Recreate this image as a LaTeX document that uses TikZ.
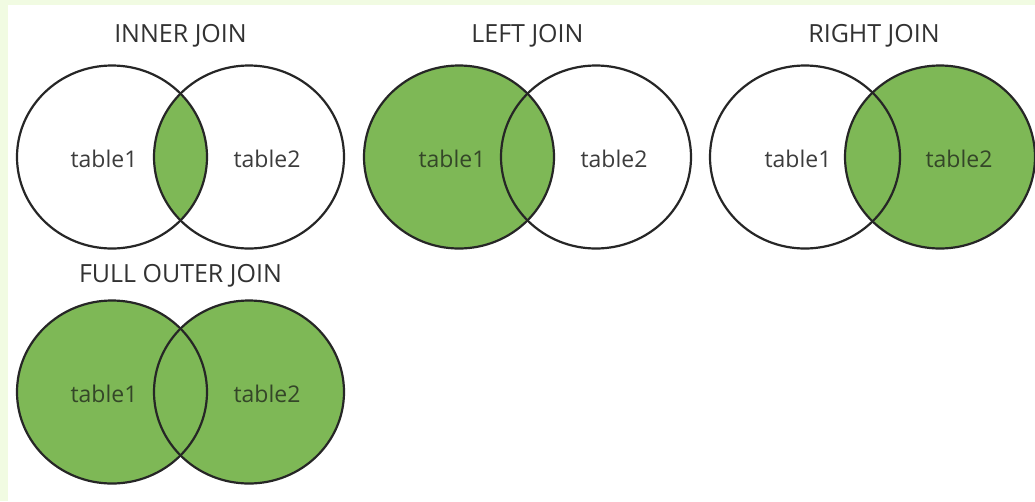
\documentclass[tikz,border=0pt]{standalone}
\usepackage{fontspec}
\setmainfont{Open Sans}
\definecolor{venngreen}{RGB}{126,184,86}
\definecolor{pagegreen}{RGB}{241,251,226}
\definecolor{inkline}{RGB}{38,38,38}
\definecolor{titleink}{RGB}{50,50,50}
\definecolor{labelink}{RGB}{60,60,60}
\definecolor{labelgreenink}{RGB}{52,70,40}
\begin{document}
\begin{tikzpicture}[x=1pt,y=-1pt,
  outline/.style={draw=inkline,line width=2.2pt},
  title/.style={text=titleink,font=\fontsize{25}{29}\selectfont,anchor=base,inner sep=0pt},
  lbl/.style={text=labelink,font=\fontsize{23}{27}\selectfont,anchor=base,inner sep=0pt},
  lblg/.style={lbl,text=labelgreenink}]
\useasboundingbox (0,0) rectangle (1035,501);
\fill[pagegreen] (0,0) rectangle (1035,501);
\fill[white] (8,5) rectangle (1035,501);
\def\rx{95}\def\ry{91.5}
% INNER JOIN
\begin{scope}
  \clip (112,157) ellipse ({\rx} and {\ry});
  \fill[venngreen] (249,157) ellipse ({\rx} and {\ry});
\end{scope}
\draw[outline] (112,157) ellipse ({\rx} and {\ry});
\draw[outline] (249,157) ellipse ({\rx} and {\ry});
\node[title] (t1) at (180.5,42) {INNER JOIN};
\node[lbl] (a1) at (104,167) {table1};
\node[lbl] (b1) at (267,167) {table2};
% LEFT JOIN
\fill[venngreen] (459,157) ellipse ({\rx} and {\ry});
\draw[outline] (459,157) ellipse ({\rx} and {\ry});
\draw[outline] (596,157) ellipse ({\rx} and {\ry});
\node[title] (t2) at (527.5,42) {LEFT JOIN};
\node[lblg] (a2) at (452,167) {table1};
\node[lbl] (b2) at (614,167) {table2};
% RIGHT JOIN
\fill[venngreen] (940,157) ellipse ({\rx} and {\ry});
\draw[outline] (805,157) ellipse ({\rx} and {\ry});
\draw[outline] (940,157) ellipse ({\rx} and {\ry});
\node[title] (t3) at (874,42) {RIGHT JOIN};
\node[lbl] (a3) at (798,167) {table1};
\node[lblg] (b3) at (959,167) {table2};
% FULL OUTER JOIN
\fill[venngreen] (112,392) ellipse ({\rx} and {\ry});
\fill[venngreen] (249,392) ellipse ({\rx} and {\ry});
\draw[outline] (112,392) ellipse ({\rx} and {\ry});
\draw[outline] (249,392) ellipse ({\rx} and {\ry});
\node[title] (t4) at (180.5,282) {FULL OUTER JOIN};
\node[lblg] (a4) at (104,402) {table1};
\node[lblg] (b4) at (267,402) {table2};
\end{tikzpicture}
\end{document}
